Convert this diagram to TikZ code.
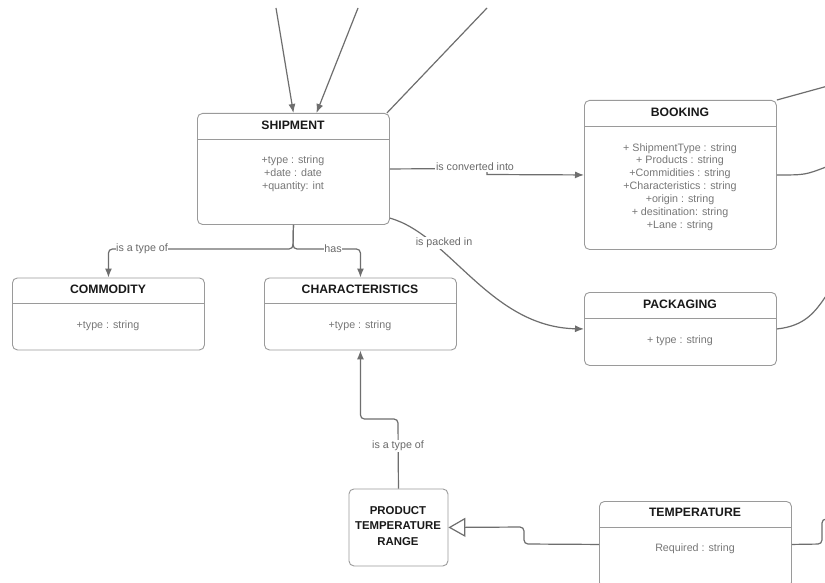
\documentclass[tikz,border=0pt]{standalone}
\usepackage{fontspec}
\setmainfont{Liberation Sans}
\usetikzlibrary{arrows.meta,calc}
\definecolor{boxgray}{HTML}{9A9A9A}
\definecolor{linegray}{HTML}{6E6E6E}
\definecolor{attrgray}{HTML}{777777}
\definecolor{lblgray}{HTML}{6A6A6A}
\tikzset{
  umlbox/.style={draw=boxgray, rounded corners=5pt, line width=0.9pt, inner sep=0pt, anchor=north west, minimum width=192pt},
  divider/.style={draw=boxgray, line width=0.9pt},
  title/.style={font=\bfseries\fontsize{12.2}{15.5}\selectfont, text=black!90, align=center, inner sep=0pt},
  attr/.style={font=\fontsize{10.7}{12.9}\selectfont, text=attrgray, align=center, inner sep=0pt},
  lbl/.style={font=\fontsize{10.7}{13}\selectfont, text=lblgray, fill=white, inner sep=1pt},
  conn/.style={draw=linegray, line width=1.2pt, rounded corners=4pt},
  arr/.style={-{Latex[length=9pt,width=7pt]}},
  genarr/.style={-{Triangle[open,length=17pt,width=19pt,line width=1.2pt]}},
}
\begin{document}
\begin{tikzpicture}[x=1pt,y=-1pt]
\useasboundingbox (0,0) rectangle (825,583);
\clip (0,0) rectangle (825,583);
\fill[white] (0,0) rectangle (825,583);

% boxes
\node[umlbox, minimum height=111pt] (ship) at (197,113) {};
\draw[divider] (197,139) -- (389,139);
\node[title] (shipT) at (293,125) {SHIPMENT};
\node[attr] (shipA) at (293,173.5) {+type : string\\+date : date\\+quantity: int};

\node[umlbox, minimum height=149pt] (book) at (584,100) {};
\draw[divider] (584,126) -- (776,126);
\node[title] (bookT) at (680,112) {BOOKING};
\node[attr] (bookA) at (680,187) {+ ShipmentType : string\\+ Products : string\\+Commidities : string\\+Characteristics : string\\+origin : string\\+ desitination: string\\+Lane : string};

\node[umlbox, minimum height=73pt] (pack) at (584,292) {};
\draw[divider] (584,318.5) -- (776,318.5);
\node[title] (packT) at (680,304) {PACKAGING};
\node[attr] (packA) at (680,341) {+ type : string};

\node[umlbox, minimum height=72pt] (comm) at (12,277.5) {};
\draw[divider] (12,303.5) -- (204,303.5);
\node[title] (commT) at (108,289) {COMMODITY};
\node[attr] (commA) at (108,326) {+type : string};

\node[umlbox, minimum height=72pt] (char) at (264,277.5) {};
\draw[divider] (264,303.5) -- (456,303.5);
\node[title] (charT) at (360,289) {CHARACTERISTICS};
\node[attr] (charA) at (360,326) {+type : string};

\node[umlbox, minimum width=99pt, minimum height=77pt] (ptr) at (348.5,488.5) {};
\node[title, font=\bfseries\fontsize{11.4}{15.5}\selectfont] (ptrT) at (398,526) {PRODUCT\\TEMPERATURE\\RANGE};

\node[umlbox, minimum height=86pt] (temp) at (599,501) {};
\draw[divider] (599,527) -- (791,527);
\node[title] (tempT) at (695,512) {TEMPERATURE};
\node[attr] (tempA) at (695,549) {Required : string};

% off-picture ends
\coordinate (in1) at (276,8);
\coordinate (in2) at (358,8);
\coordinate (in3) at (487,8);
\coordinate (out1) at (826,86.5);
\coordinate (out2) at (826,167);
\coordinate (out3) at (826,296);
\coordinate (out4) at (830,519);

% connectors
\draw[conn, arr] (in1) -- (ship.north);
\draw[conn, arr] (in2) -- ($(ship.north)+(23,0)$);
\draw[conn] (in3) -- ($(ship.north east)+(-3,0)$);

\draw[conn, arr, rounded corners=0pt] (ship.east) -- (487,168.5) -- (487,174.5) -- (book.west);
\node[lbl, inner ysep=1.5pt] (lconv) at (475,167) {is converted into};

\draw[conn, arr] (ship.south) -- (293,249) -| (comm.north);
\draw[conn, arr] (ship.south) -- (293,249) -| (char.north);
\node[lbl, inner sep=0.5pt] (ltype1) at (142,249) {is a type of};
\node[lbl, inner sep=0.5pt] (lhas) at (333,249) {has};

\draw[conn, arr] (ship.-27) .. controls (450,235) and (490,327) .. (pack.west);
\node[lbl] (lpack) at (444,243) {is packed in};

\draw[conn, arr] (ptr.north) -- (398,419) -| (char.south);
\node[lbl] (ltype2) at (398,446) {is a type of};

\draw[conn, genarr] (temp.west) -- (524,544) -- (524,527) -- (ptr.east);

\draw[conn] (book.north east) -- (out1);
\draw[conn] (book.east) .. controls (805,175) .. (out2);
\draw[conn] (pack.east) .. controls (805,326) and (815,312) .. (out3);
\draw[conn] (temp.east) -- (822,544) -- (822,519) -- (out4);
\end{tikzpicture}
\end{document}
